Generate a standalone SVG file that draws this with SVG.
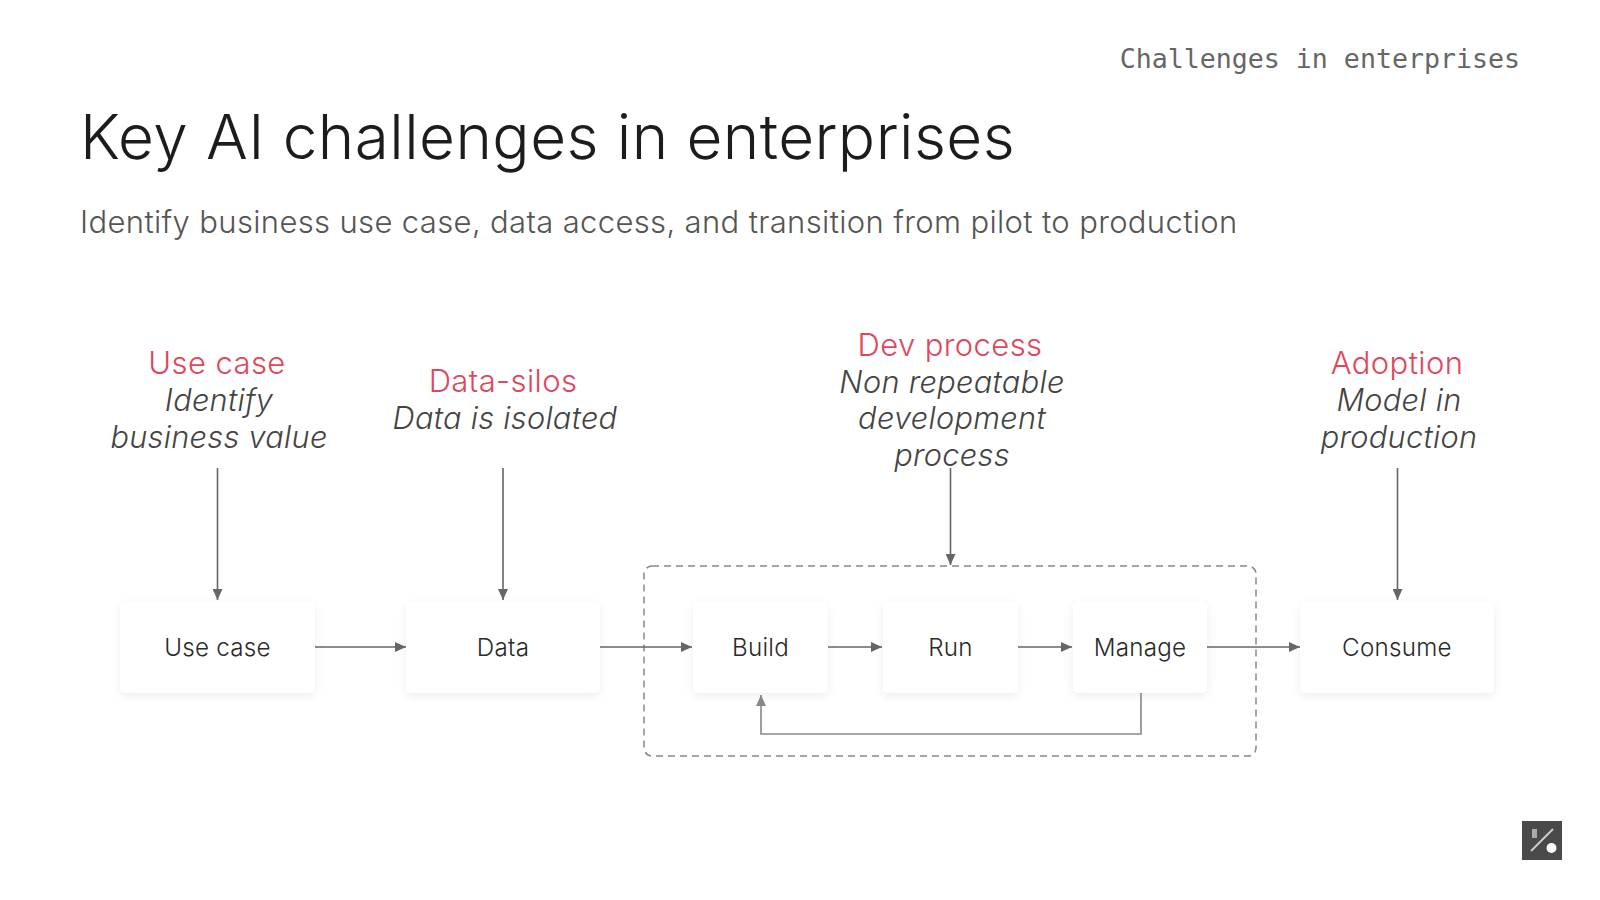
<svg xmlns="http://www.w3.org/2000/svg" width="1600" height="900" viewBox="0 0 1600 900">
<style>
text{font-family:Inter,"Noto Sans",sans-serif}
.h{font-size:31px;font-weight:300;letter-spacing:.4px;fill:#e0475c;text-anchor:middle}
.i{font-size:30.700px;font-weight:300;letter-spacing:.3px;font-style:italic;fill:#444;text-anchor:middle}
.n{font-size:24.200px;font-weight:350;letter-spacing:.25px;fill:#2a2a2a;text-anchor:middle}
.b{fill:#fff;filter:url(#s)}
.c{fill:none;stroke:#666;stroke-width:1.6;marker-end:url(#a)}
</style>
<defs>
<marker id="a" markerUnits="userSpaceOnUse" markerWidth="12" markerHeight="10" refX="11" refY="5" orient="auto"><path d="M0 0L11 5L0 10z" fill="#666"/></marker>
<marker id="g" markerUnits="userSpaceOnUse" markerWidth="12" markerHeight="10" refX="11" refY="5" orient="auto"><path d="M0 0L11 5L0 10z" fill="#888"/></marker>
<filter id="s" x="-20%" y="-20%" width="140%" height="150%"><feDropShadow dx="0" dy="3" stdDeviation="4" flood-color="#000" flood-opacity="0.07"/></filter>
</defs>
<rect width="1600" height="900" fill="#fff"/>
<text x="1520" y="68" text-anchor="end" font-size="26.600" style="font-family:'DejaVu Sans Mono',monospace" fill="#666">Challenges in enterprises</text>
<text x="80" y="159" font-size="62" font-weight="300" letter-spacing=".43" fill="#1c1c1c">Key AI challenges in enterprises</text>
<text x="80" y="233" font-size="31" font-weight="300" letter-spacing=".35" fill="#555">Identify business use case, data access, and transition from pilot to production</text>
<g id="label-usecase"><text class="h" x="217" y="374">Use case</text><text class="i" x="219" y="411">Identify</text><text class="i" x="219" y="448">business value</text></g>
<g id="label-data"><text class="h" x="503" y="392">Data-silos</text><text class="i" x="505" y="429">Data is isolated</text></g>
<g id="label-dev"><text class="h" x="950" y="356">Dev process</text><text class="i" x="952" y="393">Non repeatable</text><text class="i" x="952" y="429">development</text><text class="i" x="952" y="466">process</text></g>
<g id="label-adoption"><text class="h" x="1397" y="374">Adoption</text><text class="i" x="1399" y="411">Model in</text><text class="i" x="1399" y="448">production</text></g>
<rect id="group" x="644" y="566" width="612" height="190" rx="8" fill="none" stroke="#888" stroke-width="1.5" stroke-dasharray="7 5"/>
<g id="node-usecase"><rect class="b" x="120" y="602" width="195" height="91" rx="5"/><text class="n" x="217.500" y="656">Use case</text></g>
<g id="node-data"><rect class="b" x="406" y="602" width="194" height="91" rx="5"/><text class="n" x="503" y="656">Data</text></g>
<g id="node-build"><rect class="b" x="693" y="602" width="135" height="91" rx="5"/><text class="n" x="760.500" y="656">Build</text></g>
<g id="node-run"><rect class="b" x="883" y="602" width="135" height="91" rx="5"/><text class="n" x="950.500" y="656">Run</text></g>
<g id="node-manage"><rect class="b" x="1073" y="602" width="134" height="91" rx="5"/><text class="n" x="1140" y="656">Manage</text></g>
<g id="node-consume"><rect class="b" x="1300" y="602" width="194" height="91" rx="5"/><text class="n" x="1397" y="656">Consume</text></g>
<g id="connectors">
<path class="c" d="M217.500 468V600"/><path class="c" d="M503 468V600"/><path class="c" d="M950.500 468V565"/><path class="c" d="M1397.500 468V600"/>
<path class="c" d="M315 647H406"/><path class="c" d="M600 647H692"/><path class="c" d="M828 647H882"/><path class="c" d="M1018 647H1072"/><path class="c" d="M1207 647H1300"/>
<path d="M1141 693V734H761V695" fill="none" stroke="#888" stroke-width="1.6" marker-end="url(#g)"/>
</g>
<g id="logo"><rect x="1522" y="821" width="40" height="39" fill="#4a4a4a"/><path d="M1531 851L1553 829" stroke="#ccc" stroke-width="2"/><circle cx="1551.500" cy="848" r="5" fill="#fff"/><rect x="1532" y="829" width="5" height="9" fill="#aaa"/></g>
</svg>
